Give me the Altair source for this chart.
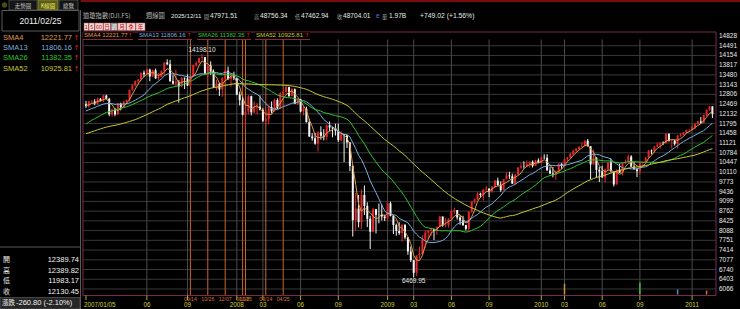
import altair as alt
import pandas as pd

# ---------------- data ----------------
# 2006 weekly closes (only used to warm up the moving averages)
CLOSE_2006 = [11011, 10959, 10667, 10907, 10793, 10919, 11115, 11061, 11022, 11076,
              11279, 11280, 11109, 11120, 11137, 11347, 11367, 11578, 11380, 11144,
              11278, 11247, 10891, 11015, 10989, 11150, 11090, 10739, 10868, 11219,
              11240, 11088, 11381, 11284, 11464, 11392, 11560, 11508, 11679, 11850,
              11960, 12002, 12090, 12032, 12108, 12342, 12280, 12194, 12307, 12445,
              12343, 12463]

OPEN_2007 = [12463, 12398, 12556, 12565, 12487, 12654, 12581, 12768, 12647, 12114,
             12277, 12110, 12481, 12354, 12560, 12612, 12962, 13120, 13265, 13327,
             13556, 13507, 13668, 13424, 13639, 13360, 13409, 13612, 13908, 13851,
             13265, 13182, 13239, 13079, 13379, 13358, 13114, 13443, 13821, 13896,
             14066, 14093, 13522, 13807, 13596, 13043, 13177, 12981, 13372, 13626,
             13340, 13451]
HIGH_2007 = [12580, 12575, 12620, 12640, 12690, 12680, 12790, 12795, 12690, 12320,
             12340, 12510, 12520, 12580, 12630, 12980, 13160, 13290, 13330, 13560,
             13630, 13690, 13690, 13660, 13700, 13540, 13630, 13920, 14020, 14000,
             13470, 13660, 13300, 13400, 13390, 13500, 13460, 13840, 13950, 14070,
             14198.10, 14100, 13830, 13950, 13670, 13310, 13200, 13400, 13660, 13770,
             13470, 13590]
LOW_2007 = [12330, 12340, 12500, 12430, 12450, 12560, 12540, 12620, 12050, 12040,
            12050, 12100, 12250, 12340, 12480, 12560, 12930, 13080, 13180, 13290,
            13400, 13480, 13260, 13410, 13340, 13300, 13400, 13460, 13820, 13240,
            13150, 13090, 12518, 13060, 12990, 13100, 13080, 13420, 13760, 13880,
            14000, 13520, 13400, 13480, 13040, 12940, 12750, 12720, 13250, 13300,
            13070, 13300]
CLOSE_2007 = [12398, 12556, 12565, 12487, 12654, 12581, 12768, 12647, 12114, 12277,
              12110, 12481, 12354, 12560, 12612, 12962, 13120, 13265, 13327, 13556,
              13507, 13668, 13424, 13639, 13360, 13409, 13612, 13908, 13851, 13265,
              13182, 13239, 13079, 13379, 13358, 13114, 13443, 13821, 13896, 14066,
              14093, 13522, 13807, 13596, 13043, 13177, 12981, 13372, 13626, 13340,
              13451, 13366]

OPEN_2008 = [13366, 12800, 12606, 12099, 12207, 12743, 12183, 12348, 12381, 12266,
             11894, 11951, 12361, 12216, 12609, 12325, 12849, 12891, 13058, 12745,
             12986, 12480, 12638, 12209, 12307, 11843, 11346, 11288, 11100, 11496,
             11370, 11326, 11734, 11659, 11628, 11543, 11220, 11422, 11388, 11143,
             10325, 8451, 8852, 8378, 9325, 8943, 8497, 8046, 8829, 8635,
             8629, 8579]
HIGH_2008 = [13370, 12900, 12740, 12520, 12780, 12760, 12560, 12500, 12770, 12330,
             12270, 12420, 12560, 12660, 12670, 12880, 12920, 13140, 13070, 13030,
             13010, 12680, 12650, 12380, 12380, 11960, 11460, 11470, 11530, 11700,
             11600, 11760, 11870, 11670, 11790, 11790, 11530, 11430, 11400, 11150,
             10350, 9390, 9320, 9500, 9650, 9070, 8600, 8880, 8840, 9030,
             8990, 8640]
LOW_2008 = [12780, 12420, 12080, 11634, 12100, 12080, 12150, 12110, 12250, 11850,
            11730, 11770, 12150, 12200, 12300, 12290, 12710, 12800, 12720, 12740,
            12470, 12440, 12180, 12080, 11830, 11330, 11200, 11060, 10827, 11240,
            11210, 11220, 11540, 11320, 11380, 11160, 11180, 10460, 10950, 10150,
            7882, 8080, 8200, 8140, 8630, 8210, 7450, 8030, 7990, 8340,
            8440, 8420]
CLOSE_2008 = [12800, 12606, 12099, 12207, 12743, 12183, 12348, 12381, 12266, 11894,
              11951, 12361, 12216, 12609, 12325, 12849, 12891, 13058, 12745, 12986,
              12480, 12638, 12209, 12307, 11843, 11346, 11288, 11100, 11496, 11370,
              11326, 11734, 11659, 11628, 11543, 11220, 11422, 11388, 11143, 10325,
              8451, 8852, 8378, 9325, 8943, 8497, 8046, 8829, 8635, 8629,
              8579, 8515]

OPEN_2009 = [8515, 9034, 8599, 8281, 8077, 8001, 8280, 7850, 7366, 7063,
             6627, 7224, 7279, 7776, 8018, 8083, 8131, 8076, 8212, 8575,
             8268, 8277, 8500, 8764, 8799, 8540, 8438, 8280, 8146, 8743,
             9093, 9172, 9370, 9321, 9506, 9544, 9441, 9606, 9820, 9665,
             9488, 9865, 9996, 9972, 9713, 10023, 10270, 10318, 10310, 10389,
             10471, 10329, 10520]
HIGH_2009 = [9070, 9090, 8620, 8330, 8380, 8320, 8320, 7860, 7540, 7070,
             7230, 7530, 7930, 8100, 8100, 8190, 8150, 8230, 8600, 8580,
             8530, 8510, 8820, 8880, 8800, 8620, 8600, 8290, 8760, 9100,
             9200, 9420, 9400, 9520, 9630, 9550, 9630, 9830, 9920, 9790,
             9870, 10120, 10120, 10060, 10060, 10290, 10420, 10490, 10520, 10480,
             10520, 10540, 10590]
LOW_2009 = [8420, 8580, 7970, 7910, 7940, 7700, 7790, 7250, 7000, 6469.95,
            6520, 7120, 7240, 7490, 7790, 7900, 7760, 7940, 8200, 8220,
            8200, 8190, 8480, 8670, 8470, 8290, 8250, 8090, 8090, 8700,
            9020, 9140, 9230, 9130, 9450, 9250, 9400, 9560, 9640, 9430,
            9480, 9860, 9880, 9700, 9680, 10020, 10230, 10230, 10300, 10270,
            10270, 10320, 10420]
CLOSE_2009 = [9034, 8599, 8281, 8077, 8001, 8280, 7850, 7366, 7063, 6627,
              7224, 7279, 7776, 8018, 8083, 8131, 8076, 8212, 8575, 8268,
              8277, 8500, 8764, 8799, 8540, 8438, 8280, 8146, 8743, 9093,
              9172, 9370, 9321, 9506, 9544, 9441, 9606, 9820, 9665, 9488,
              9865, 9996, 9972, 9713, 10023, 10270, 10318, 10310, 10389, 10471,
              10329, 10520, 10428]

OPEN_2010 = [10428, 10618, 10610, 10173, 10067, 10012, 10099, 10403, 10325, 10567,
             10625, 10742, 10851, 10927, 10997, 11019, 11205, 11009, 10380, 10620,
             10193, 10137, 9931, 10211, 10450, 10144, 9686, 10198, 10098, 10424,
             10466, 10654, 10303, 10213, 10150, 10448, 10462, 10607, 10860, 10830,
             11006, 11063, 11133, 11118, 11444, 11193, 11204, 11092, 11382, 11411,
             11492, 11573]
HIGH_2010 = [10640, 10730, 10730, 10300, 10290, 10170, 10420, 10420, 10580, 10640,
             10780, 10900, 10940, 11000, 11150, 11210, 11260, 11020, 10900, 10630,
             10290, 10330, 10230, 10460, 10590, 10150, 10200, 10400, 10440, 10550,
             10720, 10700, 10460, 10260, 10460, 10480, 10640, 10870, 10900, 11010,
             11140, 11150, 11180, 11450, 11450, 11250, 11230, 11400, 11460, 11500,
             11580, 11600]
LOW_2010 = [10420, 10560, 10160, 10040, 9930, 9840, 10090, 10230, 10320, 10500,
            10590, 10700, 10800, 10880, 10970, 10990, 11000, 9870, 10370, 9920,
            9770, 9920, 9760, 10190, 10110, 9614, 9680, 10080, 9990, 10380,
            10460, 10300, 10200, 9940, 10040, 10300, 10450, 10580, 10730, 10780,
            10980, 10930, 11050, 11100, 11170, 10930, 11030, 10930, 11340, 11380,
            11470, 11510]
CLOSE_2010 = [10618, 10610, 10173, 10067, 10012, 10099, 10403, 10325, 10567, 10625,
              10742, 10851, 10927, 10997, 11019, 11205, 11009, 10380, 10620, 10193,
              10137, 9931, 10211, 10450, 10144, 9686, 10198, 10098, 10424, 10466,
              10654, 10303, 10213, 10150, 10448, 10462, 10607, 10860, 10830, 11006,
              11063, 11133, 11118, 11444, 11193, 11204, 11092, 11382, 11411, 11492,
              11573, 11578]

OPEN_2011 = [11578, 11674, 11787, 11871, 11823, 12092, 12273, 12389.74]
HIGH_2011 = [11750, 11790, 11880, 12020, 12100, 12280, 12400, 12389.82]
LOW_2011 = [11570, 11600, 11750, 11780, 11820, 12050, 12240, 11983.17]
CLOSE_2011 = [11674, 11787, 11871, 11823, 12092, 12273, 12391, 12130.45]

SMA_WINDOWS = [4, 13, 26, 52]
SMA_COLORS = ["#e09a48", "#78aede", "#2ec42e", "#c8c832"]

MONTH_IDX = [0, 21, 35, 52, 61, 74, 87, 104, 113, 126, 139, 157, 165, 178, 191, 209]
MONTH_LABELS = ["2007/01/05", "06", "09", "2008", "03", "06", "09", "2009",
                "03", "06", "09", "2010", "03", "06", "09", "2011"]
EVENT_IDX = [36, 42, 48, 54, 55, 62, 68]
EVENT_LABELS = ["09/14", "10/26", "12/07", "01/18", "01/25", "03/14", "04/25"]
Y_TICKS = [14828, 14491, 14154, 13817, 13480, 13143, 12806, 12469, 12132, 11795,
           11458, 11121, 10784, 10447, 10110, 9773, 9436, 9099, 8762, 8425,
           8088, 7751, 7414, 7077, 6740, 6403, 6066]
MARK_IDX = [165, 191, 204, 214]
MARK_LEVEL = [6250, 6290, 6050, 6010]
MARK_COLORS = ["#c89040", "#40c040", "#5090a8", "#e07030"]

# ---------------- frames ----------------
OPEN = OPEN_2007 + OPEN_2008 + OPEN_2009 + OPEN_2010 + OPEN_2011
HIGH = HIGH_2007 + HIGH_2008 + HIGH_2009 + HIGH_2010 + HIGH_2011
LOW = LOW_2007 + LOW_2008 + LOW_2009 + LOW_2010 + LOW_2011
CLOSE = CLOSE_2007 + CLOSE_2008 + CLOSE_2009 + CLOSE_2010 + CLOSE_2011
n = len(CLOSE)
df = pd.DataFrame({"i": range(n), "o": OPEN, "h": HIGH, "l": LOW, "c": CLOSE})
df["up"] = df["c"] >= df["o"]

allc = pd.Series(CLOSE_2006 + CLOSE, dtype=float)
sma = pd.DataFrame({"i": range(n)})
for w in SMA_WINDOWS:
    sma[f"s{w}"] = allc.rolling(w).mean().iloc[-n:].values

months = pd.DataFrame({"i": MONTH_IDX, "lab": MONTH_LABELS})
events = pd.DataFrame({"i": EVENT_IDX, "lab": EVENT_LABELS})
yt = pd.DataFrame({"v": Y_TICKS})
marks = pd.DataFrame({"i": MARK_IDX, "v": MARK_LEVEL, "col": MARK_COLORS})
peak = df.loc[[df["h"].idxmax()]].assign(t=lambda d: d["h"].map(lambda v: f"{v:.2f}"))
trough = df.loc[[df["l"].idxmin()]].assign(t=lambda d: d["l"].map(lambda v: f"{v:.2f}"))

NUM = "Liberation Sans"
CJK = "Noto Sans CJK TC"

XL, XR, YT, YB = 83, 716, 32, 295.5
XS = alt.Scale(domain=[-1.03, 217.24], range=[XL, XR], zero=False, nice=False)
YS = alt.Scale(domain=[5840, 14966], range=[YB, YT], zero=False, nice=False)


def X(f):
    return alt.X(f, type="quantitative", scale=XS, axis=None)


def Y(f):
    return alt.Y(f, type="quantitative", scale=YS, axis=None)


one = pd.DataFrame({"k": [0]})
layers = []


def txt(x, y, s, color="#e0e0e0", size=7, align="left", font=NUM, weight="normal"):
    layers.append(alt.Chart(one).mark_text(align=align, baseline="middle", fontSize=size,
                                           font=font, color=color, fontWeight=weight)
                  .encode(x=alt.value(x), y=alt.value(y), text=alt.value(s)))


def rect(x1, y1, x2, y2, fill="#000000", stroke="#555555", sw=1, fo=1.0):
    layers.append(alt.Chart(one).mark_rect(fill=fill, fillOpacity=fo, stroke=stroke, strokeWidth=sw)
                  .encode(x=alt.value(x1), x2=alt.value(x2), y=alt.value(y1), y2=alt.value(y2)))


def line(x1, y1, x2, y2, color="#555555", sw=1):
    layers.append(alt.Chart(one).mark_rule(color=color, strokeWidth=sw)
                  .encode(x=alt.value(x1), x2=alt.value(x2), y=alt.value(y1), y2=alt.value(y2)))


# --- plot background grid ---
layers.append(alt.Chart(yt).mark_rule(color="#383838", strokeWidth=1)
              .transform_filter("datum.v < 14800")
              .encode(y=Y("v"), x=alt.value(XL), x2=alt.value(XR)))
layers.append(alt.Chart(months).mark_rule(color="#4a4a4a", strokeWidth=1)
              .transform_filter("datum.i > 0")
              .encode(x=X("i"), y=alt.value(39.5), y2=alt.value(YB)))
layers.append(alt.Chart(events).mark_rule(color="#c8642a", strokeWidth=1)
              .encode(x=X("i"), y=alt.value(39.5), y2=alt.value(YB)))

# --- markers at bottom ---
for k in range(len(MARK_IDX)):
    layers.append(alt.Chart(marks.iloc[[k]]).mark_rule(color=MARK_COLORS[k], strokeWidth=1.5)
                  .encode(x=X("i"), y=Y("v"), y2=alt.value(YB - 1)))

# --- candles ---
for up, col in [(True, "#e8262a"), (False, "#f4f4f4")]:
    flt = "datum.up" if up else "!datum.up"
    layers.append(alt.Chart(df).mark_rule(color=col, strokeWidth=1)
                  .transform_filter(flt).encode(x=X("i"), y=Y("l"), y2=alt.Y2("h")))
    layers.append(alt.Chart(df).mark_rule(color=col, strokeWidth=2)
                  .transform_filter(flt).encode(x=X("i"), y=Y("o"), y2=alt.Y2("c")))

# --- moving averages ---
for w, col in zip(SMA_WINDOWS, SMA_COLORS):
    layers.append(alt.Chart(sma).mark_line(color=col, strokeWidth=1)
                  .encode(x=X("i"), y=Y(f"s{w}")))

# --- peak / trough annotation ---
layers.append(alt.Chart(peak).mark_text(baseline="bottom", dy=-1, fontSize=6.5, font=NUM, color="#e6e6e6")
              .encode(x=X("i"), y=Y("h"), text="t:N"))
layers.append(alt.Chart(trough).mark_text(baseline="top", dy=1, fontSize=6.5, font=NUM, color="#e6e6e6")
              .encode(x=X("i"), y=Y("l"), text="t:N"))

# --- frame ---
rect(XL, YT, XR, YB, fill="#000000", stroke="#7a2a4c", sw=1, fo=0)

# --- right axis labels ---
layers.append(alt.Chart(yt).mark_text(align="left", baseline="middle", fontSize=6.5, font=NUM, color="#e8e8e8")
              .encode(y=Y("v"), x=alt.value(719), text=alt.Text("v:Q", format="d")))

# --- bottom axis ---
layers.append(alt.Chart(months).mark_rule(color="#b0b020", strokeWidth=1)
              .encode(x=X("i"), y=alt.value(YB), y2=alt.value(300)))
layers.append(alt.Chart(months).mark_text(align="center", baseline="middle", fontSize=6.3, font=NUM, color="#d0d030")
              .transform_filter("datum.i > 0")
              .encode(x=X("i"), y=alt.value(304.8), text="lab:N"))
layers.append(alt.Chart(months).mark_text(align="left", baseline="middle", dx=-2, fontSize=6.3, font=NUM, color="#d0d030")
              .transform_filter("datum.i == 0")
              .encode(x=X("i"), y=alt.value(304.8), text="lab:N"))
layers.append(alt.Chart(events).mark_text(align="center", baseline="middle", fontSize=5.2, font=NUM, color="#d8702c")
              .encode(x=X("i"), y=alt.value(298.6), text="lab:N"))

# --- SMA legend row inside plot ---
leg = [(84, 130, "SMA4 12221.77"), (139, 189, "SMA13 11806.16"),
       (198, 248, "SMA26 11382.35"), (256, 307, "SMA52 10925.81")]
for (x0, xm, s), col in zip(leg, SMA_COLORS):
    rect(x0 - 1, YT + 0.5, xm + 3, 39, fill="#000000", stroke="#000000", sw=0)
    txt(x0, 35.3, s, color=col, size=6.1)
    txt(xm, 35.3, "↑", color="#e02020", size=5.5, font="DejaVu Sans", align="center")
    line(x0 - 1, 39.5, xm + 3, 39.5, color="#8a2a3a", sw=1)

# --- header ---
line(81, 1, 740, 1, color="#7a0c0c", sw=2)
txt(83, 16, "道瓊指數(DJI.FS)", color="#b8b8b8", size=6.3, font=CJK)
txt(146, 16, "週線圖", color="#b8b8b8", size=6.3, font=CJK)
txt(171, 16, "2025/12/11", color="#e8e8e8", size=6.2)
hdr = [(204, "開", 210, "47971.51"), (254, "高", 260, "48756.34"),
       (295, "低", 301, "47462.94"), (337, "收", 343, "48704.01")]
for xl, l, xv, v in hdr:
    txt(xl, 16.5, l, color="#a0a0a0", size=5.2, font=CJK)
    txt(xv, 16, v, color="#e8e8e8", size=6.6)
txt(376, 16, "e", color="#6070e0", size=6.5)
txt(382, 16.5, "量", color="#a0a0a0", size=5.2, font=CJK)
txt(389, 16, "1.97B", color="#e8e8e8", size=6.6)
txt(420, 16, "+749.02 (+1.56%)", color="#e8e8e8", size=6.8)

btns = [(84, 88.5, "1"), (89, 94.5, "5"), (95, 103, "60"), (103.5, 110.5, "日"),
        (111, 117.5, "週"), (118, 126, "月"), (126.5, 135.5, "季"), (136, 145, "年")]
for x0, x1, s in btns:
    sel = s == "週"
    rect(x0, 23, x1, 30.5, fill="#8c8c8c" if sel else "#f2d6d6", stroke="#b06060", sw=0.5)
    txt((x0 + x1) / 2, 27, s, color="#ffffff" if sel else "#cc0000", size=5.5,
        font=CJK, align="center")

# --- left panel ---
layers.append(alt.Chart(one).mark_circle(size=28, color="#6a6a22")
              .encode(x=alt.value(4.5), y=alt.value(5)))
rect(9, 0, 37, 10, fill="#151515", stroke="#606060", sw=0.7)
txt(23, 5.5, "走勢圖", color="#c8c8c8", size=5.5, font=CJK, align="center")
rect(38, 0, 58, 10, fill="#5a5a1c", stroke="#9a9a40", sw=0.7)
txt(48, 5.5, "K線圖", color="#f0f060", size=5.5, font=CJK, align="center")
rect(59, 0, 78, 10, fill="#151515", stroke="#606060", sw=0.7)
txt(68.5, 5.5, "總覽", color="#c8c8c8", size=5.5, font=CJK, align="center")

rect(2, 10.5, 79, 31, fill="#000000", stroke="#5a5a5a", sw=1)
txt(40.5, 20.5, "2011/02/25", color="#f0f0f0", size=8.5, align="center")
line(80.5, 10, 80.5, 309, color="#5a5a5a", sw=1)

left_sma = [(37.5, "SMA4", "12221.77"), (47.5, "SMA13", "11806.16"),
            (58, "SMA26", "11382.35"), (68.5, "SMA52", "10925.81")]
for (y, l, v), col in zip(left_sma, SMA_COLORS):
    txt(3, y, l, color=col, size=7.5)
    txt(72, y, v, color=col, size=7.5, align="right")
    txt(76.5, y, "↑", color="#e82020", size=7, font="DejaVu Sans", align="center")

line(0, 247, 80, 247, color="#5a5a5a", sw=1)
ohlc = [(260, "開", "12389.74"), (270.5, "高", "12389.82"),
        (281, "低", "11983.17"), (291.5, "收", "12130.45")]
for y, l, v in ohlc:
    txt(3, y, l, color="#e8e8e8", size=7, font=CJK)
    txt(79, y, v, color="#f0f0f0", size=7.5, align="right")
rect(0, 297.5, 80, 309, fill="#262626", stroke="#5a5a5a", sw=0.7)
txt(2, 303, "漲跌", color="#f0f0f0", size=6.5, font=CJK)
txt(16, 303, "-260.80 (-2.10%)", color="#f0f0f0", size=7.5)

chart = (alt.layer(*layers)
         .properties(width=740, height=309, background="#000000", padding=0,
                     autosize=alt.AutoSizeParams(type="none"))
         .configure_view(strokeWidth=0))

chart.save("out.html", embed_options={"renderer": "svg", "actions": False})
